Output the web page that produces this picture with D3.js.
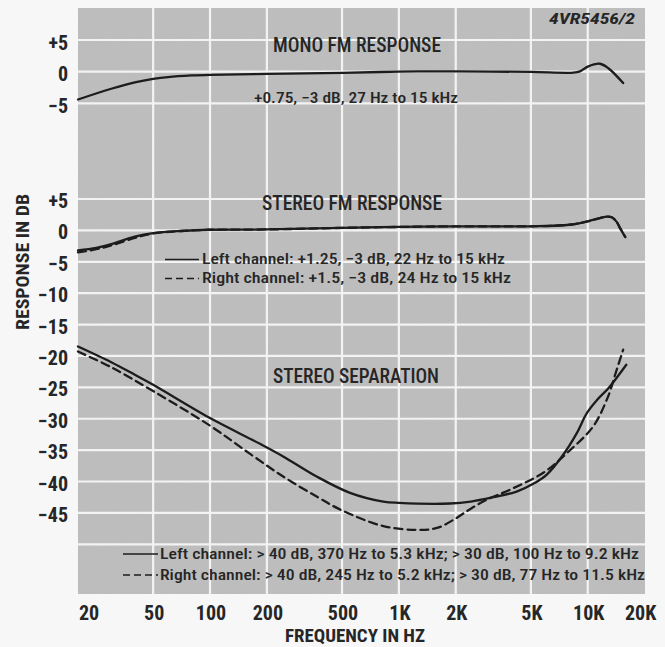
<!DOCTYPE html>
<html><head><meta charset="utf-8">
<script src="https://cdn.jsdelivr.net/npm/d3@7"></script>
<style>
html,body{margin:0;padding:0;background:#f7f7f7;}
svg{display:block;}
text{font-family:"Liberation Sans Narrow","Roboto Condensed","DejaVu Sans Condensed","Roboto","Liberation Sans",sans-serif;fill:#262626;}
</style></head>
<body><svg id="c" width="665" height="647"></svg>
<script>
// ---- data ----
const freqTicks = [20, 50, 100, 200, 500, 1000, 2000, 5000, 10000, 20000];
const freqTickLabels = ["20", "50", "100", "200", "500", "1K", "2K", "5K", "10K", "20K"];
const monoTicks = [5, 0, -5];
const monoTickLabels = ["+5", "0", "\u22125"];
const stereoGrid = [5, 0, -5, -10, -15, -20, -25, -30, -35, -40, -45, -50];
const stereoTicks = [5, 0, -5, -10, -15, -20, -25, -30, -35, -40, -45];
const stereoTickLabels = ["+5", "0", "\u22125", "\u221210", "\u221215", "\u221220", "\u221225", "\u221230", "\u221235", "\u221240", "\u221245"];

const monoFreq = [20, 30, 40, 50, 60, 80, 100, 200, 500, 1000, 2000, 5000, 8400, 9100, 10000, 11600, 12900, 15400];
const monoDb   = [-4.4, -2.7, -1.7, -1.15, -0.85, -0.6, -0.5, -0.35, -0.2, 0, 0.05, -0.05, -0.15, 0.05, 0.8, 1.25, 0.5, -1.8];

const stereoLeftFreq = [20, 25, 30, 40, 50, 70, 100, 200, 500, 1000, 2000, 5000, 8000, 10000, 12600, 13400, 14200, 14800, 15800];
const stereoLeftDb   = [-3.2, -2.8, -2.2, -1.0, -0.45, -0.1, 0.1, 0.15, 0.4, 0.55, 0.65, 0.65, 0.9, 1.45, 2.2, 2.1, 1.4, 0.4, -1.05];
const stereoRightFreq = [20, 25, 30, 40, 50, 70, 100, 200, 500, 1000, 2000, 5000, 8000, 10000, 12600, 13400, 14200, 14800, 15800];
const stereoRightDb   = [-3.5, -3.0, -2.4, -1.2, -0.5, -0.1, 0.1, 0.15, 0.4, 0.55, 0.65, 0.65, 0.9, 1.45, 2.2, 2.1, 1.4, 0.4, -1.05];

const sepLeftFreq = [20, 30, 40, 50, 100, 184, 244, 367, 551, 827, 1000, 1866, 2400, 3160, 4200, 5260, 6070, 7430, 8750, 9890, 11200, 12900, 16000];
const sepLeftDb   = [-18.5, -21.0, -23.0, -24.6, -29.9, -34.0, -36.0, -39.2, -41.8, -43.2, -43.4, -43.5, -43.2, -42.5, -41.6, -40.2, -38.9, -35.7, -32.3, -29.1, -27.0, -25.1, -21.4];
const sepRightFreq = [20, 30, 50, 100, 163, 244, 367, 500, 827, 1240, 1590, 2020, 2380, 2920, 3880, 5820, 7740, 10700, 12600, 13400, 13700, 15400];
const sepRightDb   = [-19.3, -21.8, -25.6, -31.1, -35.6, -39.2, -42.4, -44.6, -47.1, -47.7, -47.4, -45.8, -44.4, -42.9, -41.3, -38.6, -35.5, -31.2, -27.0, -24.8, -23.8, -19.0];

// ---- layout ----
const svg = d3.select("#c");
const x = d3.scaleLog().domain([20, 20000]).range([78, 644.6]);
const yMono = d3.scaleLinear().domain([5, -5]).range([40, 103.3]);
const yStereo = d3.scaleLinear().domain([5, -50]).range([199, 544.3]);
const plotTop = 8, plotBottom = 594, plotLeft = 78, plotRight = 645;

// noise filter for paper texture
const defs = svg.append("defs");
const f = defs.append("filter").attr("id", "noise").attr("x", 0).attr("y", 0).attr("width", "100%").attr("height", "100%");
f.append("feTurbulence").attr("type", "fractalNoise").attr("baseFrequency", 0.9).attr("numOctaves", 2).attr("seed", 3).attr("result", "t");
f.append("feColorMatrix").attr("type", "matrix")
  .attr("values", "0 0 0 0 0.45  0 0 0 0 0.45  0 0 0 0 0.45  0 0 0 -1.6 1.0").attr("in", "t");

svg.append("rect").attr("x", plotLeft).attr("y", plotTop).attr("width", plotRight - plotLeft).attr("height", plotBottom - plotTop).attr("fill", "#bebebe");
svg.append("rect").attr("x", plotLeft).attr("y", plotTop).attr("width", plotRight - plotLeft).attr("height", plotBottom - plotTop).attr("filter", "url(#noise)").attr("opacity", 0.35);

// grid
const grid = svg.append("g").attr("stroke", "#f3f3f3").attr("stroke-width", 2.2);
freqTicks.slice(1, -1).forEach(v => {
  grid.append("line").attr("x1", x(v)).attr("x2", x(v)).attr("y1", plotTop).attr("y2", plotBottom);
});
monoTicks.forEach(v => {
  grid.append("line").attr("x1", plotLeft).attr("x2", plotRight).attr("y1", yMono(v)).attr("y2", yMono(v));
});
stereoGrid.forEach(v => {
  grid.append("line").attr("x1", plotLeft).attr("x2", plotRight).attr("y1", yStereo(v)).attr("y2", yStereo(v));
});

// y tick labels
const tickFont = 20;
monoTicks.forEach((v, i) => {
  svg.append("text").attr("x", 68).attr("y", yMono(v) + 9.5).attr("text-anchor", "end")
    .attr("font-size", tickFont).attr("font-weight", "bold").text(monoTickLabels[i]);
});
stereoTicks.forEach((v, i) => {
  svg.append("text").attr("x", 68).attr("y", yStereo(v) + 9).attr("text-anchor", "end")
    .attr("font-size", tickFont).attr("font-weight", "bold").text(stereoTickLabels[i]);
});

// x tick labels
freqTicks.forEach((v, i) => {
  const first = i === 0, last = i === freqTicks.length - 1;
  svg.append("text").attr("x", first ? x(v) + 1 : (last ? x(v) - 4 : x(v) + 1)).attr("y", 620)
    .attr("text-anchor", first ? "start" : "middle")
    .attr("font-size", tickFont).attr("font-weight", "bold").text(freqTickLabels[i]);
});

// axis titles
svg.append("text").attr("x", 355).attr("y", 642).attr("text-anchor", "middle").attr("font-size", 18)
  .attr("font-weight", "bold").attr("textLength", 140).attr("lengthAdjust", "spacingAndGlyphs").text("FREQUENCY IN HZ");
svg.append("text").attr("transform", "translate(29,262) rotate(-90)").attr("text-anchor", "middle").attr("font-size", 19)
  .attr("font-weight", "bold").attr("textLength", 136).attr("lengthAdjust", "spacingAndGlyphs").text("RESPONSE IN DB");

// id label
svg.append("text").attr("x", 635).attr("y", 24).attr("text-anchor", "end").attr("font-size", 14)
  .attr("font-style", "italic").attr("font-weight", "bold").attr("textLength", 86).attr("lengthAdjust", "spacingAndGlyphs").text("4VR5456/2");

// section titles and notes
function label(txt, xs, ys, size, len, anchor, weight) {
  svg.append("text").attr("x", xs).attr("y", ys).attr("text-anchor", anchor || "middle").attr("font-size", size)
    .attr("font-weight", weight || 500)
    .attr("textLength", len).attr("lengthAdjust", "spacingAndGlyphs").text(txt);
}
label("MONO FM RESPONSE", 357, 52, 21, 168);
label("+0.75, \u22123 dB, 27 Hz to 15 kHz", 356, 103, 15, 204);
label("STEREO FM RESPONSE", 352, 210, 21, 180);
label("Left channel: +1.25, \u22123 dB, 22 Hz to 15 kHz", 202, 264, 15, 303, "start");
label("Right channel: +1.5, \u22123 dB, 24 Hz to 15 kHz", 202, 283, 15, 309, "start");
label("STEREO SEPARATION", 356, 383, 21, 166);
label("Left channel: > 40 dB, 370 Hz to 5.3 kHz; > 30 dB, 100 Hz to 9.2 kHz", 160, 559, 15, 479, "start");
label("Right channel: > 40 dB, 245 Hz to 5.2 kHz; > 30 dB, 77 Hz to 11.5 kHz", 160, 580, 15, 485, "start");

// legend samples
const ink = "#1c1c1c";
svg.append("line").attr("x1", 165).attr("x2", 199).attr("y1", 259.5).attr("y2", 259.5).attr("stroke", ink).attr("stroke-width", 1.6);
svg.append("line").attr("x1", 165).attr("x2", 199).attr("y1", 278.5).attr("y2", 278.5).attr("stroke", ink).attr("stroke-width", 1.6).attr("stroke-dasharray", "7,4");
svg.append("line").attr("x1", 123).attr("x2", 158).attr("y1", 554).attr("y2", 554).attr("stroke", ink).attr("stroke-width", 1.6);
svg.append("line").attr("x1", 123).attr("x2", 158).attr("y1", 575).attr("y2", 575).attr("stroke", ink).attr("stroke-width", 1.6).attr("stroke-dasharray", "7,4");

// curves
function curve(fr, db, y, dashed) {
  const pts = fr.map((v, i) => [x(v), y(db[i])]);
  const line = d3.line().curve(d3.curveCatmullRom.alpha(0.5));
  svg.append("path").attr("d", line(pts)).attr("fill", "none").attr("stroke", ink)
    .attr("stroke-width", 2.3).attr("stroke-linecap", "round").attr("stroke-dasharray", dashed ? "8,5" : null);
}
curve(monoFreq, monoDb, yMono, false);
curve(stereoRightFreq, stereoRightDb, yStereo, true);
curve(stereoLeftFreq, stereoLeftDb, yStereo, false);
curve(sepLeftFreq, sepLeftDb, yStereo, false);
curve(sepRightFreq, sepRightDb, yStereo, true);
</script></body></html>
